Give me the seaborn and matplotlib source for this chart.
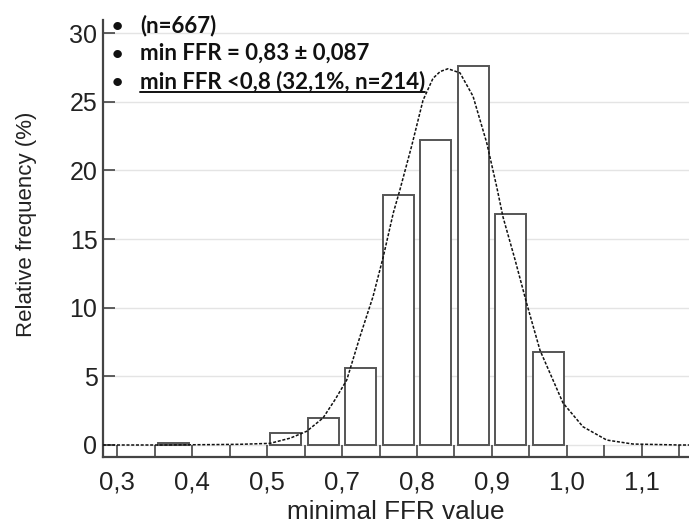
import matplotlib
matplotlib.use("Agg")
import matplotlib.pyplot as plt
from matplotlib.lines import Line2D
import seaborn as sns
import numpy as np

# ---- data (x in axis units; tick labels as printed in the source) ----
bin_centers = [0.375, 0.525, 0.575, 0.625, 0.675, 0.725, 0.775, 0.825, 0.875]
rel_freq = [0.15, 0.9, 2.0, 5.6, 18.2, 22.2, 27.6, 16.8, 6.8]

curve_x = [0.281, 0.36, 0.43, 0.464, 0.504, 0.531, 0.553, 0.5747, 0.5907, 0.6063,
           0.624, 0.6413, 0.655, 0.6684, 0.6773, 0.693, 0.708, 0.7213, 0.731, 0.7413,
           0.7573, 0.7747, 0.793, 0.8063, 0.8147, 0.8307, 0.8463, 0.864, 0.8947,
           0.9213, 0.953, 0.988, 1.0507, 1.0627]
curve_y = [0.0, 0.0, 0.03, 0.05, 0.12, 0.5, 1.0, 1.97, 3.3, 4.73,
           7.9, 10.8, 13.7, 16.9, 18.6, 21.8, 25.1, 26.7, 27.2, 27.4,
           27.1, 25.4, 22.0, 18.8, 16.6, 13.5, 10.3, 6.9, 3.06,
           1.33, 0.36, 0.07, 0.0, 0.0]

xtick_pos = [0.3, 0.4, 0.5, 0.6, 0.7, 0.8, 0.9, 1.0]
xtick_labels = ["0,3", "0,4", "0,5", "0,7", "0,8", "0,9", "1,0", "1,1"]
yticks = [0, 5, 10, 15, 20, 25, 30]

notes = ["(n=667)", "min FFR = 0,83 \u00b1 0,087", "min FFR <0,8 (32,1%, n=214)"]

sns.set_theme(style="white")
plt.rcParams["font.family"] = ["Liberation Sans", "DejaVu Sans"]

W, H = 689, 531
fig = plt.figure(figsize=(W / 100, H / 100), dpi=100)
ax = fig.add_axes([103 / W, (H - 457) / H, (W - 103) / W, (457 - 20) / H])

# horizontal grid
for yv in yticks:
    ax.axhline(yv, color="#e4e4e4", lw=1.0, zorder=0)

sns.histplot(x=bin_centers, weights=rel_freq, binwidth=0.05, binrange=(0.35, 0.9),
             shrink=0.83, stat="count", fill=True, color="white", alpha=1,
             edgecolor="#555555", linewidth=1.4, ax=ax, zorder=2)
for p in list(ax.patches):
    if p.get_height() == 0:
        p.remove()

sns.lineplot(x=curve_x, y=curve_y, ax=ax, color="#111111", lw=1.1,
             linestyle=(0, (2.0, 1.1)), zorder=3, sort=True)

ax.set_xlim(0.2813, 1.0627)
ax.set_ylim(-0.874, 30.95)

ax.set_xticks(np.arange(0.3, 1.051, 0.05), minor=True)
ax.set_xticks(xtick_pos)
ax.set_xticklabels(xtick_labels)
ax.set_yticks(yticks)
ax.set_yticklabels([str(v) for v in yticks])

for s in ["top", "right"]:
    ax.spines[s].set_visible(False)
for s in ["left", "bottom"]:
    ax.spines[s].set_color("#444444")
    ax.spines[s].set_linewidth(1.6)

ax.tick_params(axis="x", which="both", direction="in", length=8.3, width=1.2,
               color="#444444", pad=10, labelsize=18.5, labelcolor="#222222", bottom=True)
ax.tick_params(axis="x", which="minor", labelbottom=False)
ax.tick_params(axis="y", direction="in", length=8.6, width=1.2, color="#444444",
               pad=4, labelsize=18, labelcolor="#222222", left=True)

ax.set_xlabel("minimal FFR value", fontsize=18.8, color="#222222", labelpad=4)
ax.set_ylabel("Relative frequency (%)", fontsize=16, color="#222222")
ax.yaxis.set_label_coords(-0.1126, 0.533)

# annotation block
baselines = [32, 60, 88]
tobjs = []
for txt, b in zip(notes, baselines):
    fig.text(117 / W, 1 - b / H, "\u2022", ha="center", va="baseline",
             fontsize=14, fontweight="bold", color="#111111", family="Lato")
    t = fig.text(140 / W, 1 - b / H, txt, ha="left", va="baseline",
                 fontsize=16, fontweight="bold", color="#111111", family="Lato")
    tobjs.append(t)

fig.canvas.draw()
bb = tobjs[2].get_window_extent()
uy = H - 92
fig.add_artist(Line2D([bb.x0, bb.x1], [uy, uy], transform=None, color="#111111", lw=1.4))

fig.savefig("out.png", dpi=100)
